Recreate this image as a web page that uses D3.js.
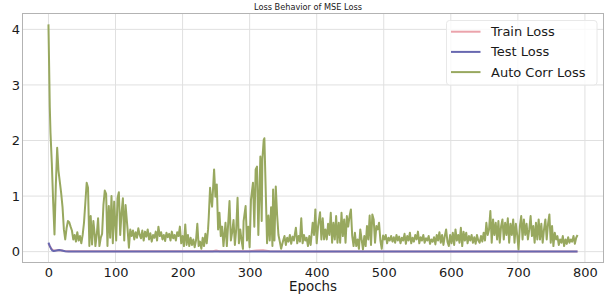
<!DOCTYPE html>
<html><head><meta charset="utf-8">
<script src="https://cdn.jsdelivr.net/npm/d3@7"></script>
<style>
html,body{margin:0;padding:0;background:#fff;}
svg{display:block;font-family:"DejaVu Sans",sans-serif;}
</style></head>
<body>
<svg id="chart" width="611" height="301"></svg>
<script>
const title = "Loss Behavior of MSE Loss";
const xLabel = "Epochs";
const xTicks = [0,100,200,300,400,500,600,700,800];
const yTicks = [0,1,2,3,4];
const seriesNames = ["Train Loss","Test Loss","Auto Corr Loss"];
const seriesColors = ["#eba3ab","#6868b0","#98a85f"];

const trainEpochs = [0,2,4,6,8,12,15,18,22,26,40,100,200,245,250,255,300,310,320,330,400,500,600,700,789];
const trainValues = [0.14,0.1,0.06,0.03,0.02,0.025,0.03,0.025,0.015,0.008,0.006,0.005,0.005,0.008,0.02,0.008,0.006,0.02,0.025,0.008,0.004,0.003,0.003,0.003,0.003];

const testEpochs = [0,2,4,6,8,12,16,20,25,30,60,200,400,600,789];
const testValues = [0.16,0.1,0.05,0.02,0.01,0.02,0.03,0.02,0.006,0.004,0.003,0.002,0.002,0.002,0.002];

const autoEpochs = [0,2,3,5,7,9,11,13,15,17,19,21,23,25,27,29,31,33,35,37,39,41,43,45,47,49,51,53,55,57,59,61,63,65,67,69,70,72,74,76,78,80,82,84,86,88,90,92,94,96,98,101,103,105,107,109,111,113,115,118,120,122,124,126,128,130,132,134,136,138,140,142,144,146,148,150,152,154,156,158,160,162,164,166,168,170,172,174,176,178,180,182,184,186,188,190,192,194,196,198,200,202,204,206,208,210,212,214,216,218,220,222,224,226,228,230,232,234,236,238,239,241,243,244,247,249,251,253,255,257,259,261,264,266,268,270,272,274,276,278,280,282,284,286,288,290,291,294,296,298,300,302,305,307,309,311,313,316,318,319,321,322,324,326,328,330,332,334,335,337,339,341,343,345,347,350,352,354,356,358,360,362,364,366,369,371,373,375,377,379,381,383,385,387,389,391,394,396,398,400,402,405,407,409,411,413,415,417,419,421,423,425,427,429,431,433,435,437,439,441,443,445,447,449,451,453,455,457,459,461,463,465,467,469,471,473,475,477,479,481,483,485,487,489,491,493,495,497,499,501,503,505,507,509,511,513,515,517,519,521,523,525,527,529,531,533,535,537,539,541,543,545,547,549,551,553,555,557,559,561,563,565,567,569,571,573,575,577,579,581,583,585,587,589,591,593,595,597,599,601,603,605,607,609,611,613,615,617,619,621,623,625,627,629,631,633,635,637,639,641,643,645,647,649,651,653,655,657,659,661,663,665,667,669,671,673,675,677,679,681,683,685,687,689,691,693,695,697,699,701,703,705,707,709,711,713,715,717,719,721,723,725,727,729,731,733,735,737,739,741,743,745,747,749,751,753,755,757,759,761,763,765,767,769,771,773,775,777,779,781,783,785,787,789];
const autoValues = [4.09,2.6,2.15,1.6,0.9,0.31,1.2,1.87,1.45,1.25,1.05,0.8,0.4,0.22,0.42,0.55,0.53,0.45,0.38,0.22,0.3,0.18,0.35,0.2,0.28,0.15,0.3,0.52,0.88,1.24,1.15,0.1,0.64,0.13,0.55,0.3,0.1,0.3,0.6,0.1,0.25,0.32,0.84,1.1,1.04,0.1,0.82,0.25,1.0,0.15,0.9,0.2,0.96,1.07,0.3,0.7,0.96,0.2,0.84,0.4,0.07,0.4,0.28,0.38,0.22,0.35,0.25,0.42,0.3,0.24,0.38,0.2,0.36,0.27,0.4,0.22,0.33,0.18,0.3,0.25,0.36,0.2,0.45,0.28,0.35,0.22,0.3,0.19,0.34,0.26,0.32,0.2,0.36,0.24,0.3,0.2,0.35,0.28,0.45,0.15,0.28,0.1,0.49,0.12,0.3,0.1,0.25,0.12,0.22,0.08,0.2,0.5,0.1,0.18,0.05,0.25,0.1,0.32,0.15,0.4,0.61,1.15,0.9,0.81,1.48,0.99,1.21,0.4,0.7,0.28,0.45,0.1,0.52,0.1,0.5,0.91,0.2,0.35,0.57,0.12,0.4,0.97,0.15,0.4,0.2,0.05,0.55,0.82,0.2,0.45,0.08,0.93,1.24,0.45,1.48,1.53,0.3,1.71,0.55,1.66,2.01,2.04,1.1,0.15,0.65,0.2,0.8,0.1,1.12,0.2,1.17,0.66,0.3,0.18,0.05,0.2,0.28,0.12,0.25,0.18,0.3,0.14,0.27,0.2,0.43,0.15,0.28,0.18,0.6,0.15,0.3,0.2,0.25,0.1,0.28,0.12,0.52,0.3,0.76,0.15,0.45,0.71,0.22,0.6,0.22,0.4,0.22,0.5,0.3,0.7,0.16,0.52,0.22,0.64,0.16,0.52,0.16,0.7,0.28,0.58,0.16,0.64,0.45,0.64,0.76,0.28,0.1,0.34,0.1,0.22,0.05,0.4,0.22,0.04,0.28,0.1,0.46,0.22,0.65,0.12,0.67,0.58,0.16,0.46,0.4,0.52,0.2,0.05,0.29,0.22,0.3,0.15,0.25,0.2,0.28,0.18,0.26,0.16,0.3,0.2,0.27,0.15,0.25,0.2,0.32,0.14,0.28,0.2,0.34,0.15,0.25,0.18,0.3,0.22,0.36,0.15,0.26,0.2,0.3,0.16,0.24,0.2,0.28,0.14,0.22,0.18,0.26,0.13,0.3,0.2,0.35,0.16,0.3,0.12,0.28,0.4,0.18,0.1,0.3,0.15,0.34,0.12,0.4,0.2,0.3,0.16,0.43,0.1,0.36,0.2,0.34,0.15,0.28,0.2,0.3,0.16,0.26,0.14,0.3,0.2,0.16,0.28,0.18,0.34,0.2,0.52,0.3,0.4,0.73,0.16,0.58,0.3,0.52,0.22,0.55,0.16,0.46,0.58,0.22,0.52,0.3,0.6,0.16,0.5,0.3,0.58,0.16,0.5,0.3,0.04,0.46,0.64,0.22,0.58,0.3,0.5,0.22,0.4,0.64,0.28,0.46,0.16,0.52,0.22,0.58,0.22,0.5,0.16,0.4,0.58,0.22,0.5,0.67,0.16,0.46,0.1,0.34,0.22,0.28,0.12,0.22,0.16,0.28,0.1,0.22,0.14,0.26,0.16,0.22,0.18,0.28,0.14,0.25,0.3];

const W = 611, H = 301;
const m = {left:22, right:604, top:13, bottom:263};
const svg = d3.select("#chart");

const x = d3.scaleLinear().domain([-39.45, 828.45]).range([m.left, m.right]);
const y = d3.scaleLinear().domain([-0.2045, 4.2945]).range([m.bottom, m.top]);

// grid
const grid = svg.append("g");
grid.selectAll(".vx").data(xTicks).join("line")
  .attr("x1", d=>x(d)).attr("x2", d=>x(d)).attr("y1", m.top).attr("y2", m.bottom)
  .attr("stroke", "#e0e0e0").attr("stroke-width", 1);
grid.selectAll(".hy").data(yTicks).join("line")
  .attr("x1", m.left).attr("x2", m.right).attr("y1", d=>y(d)).attr("y2", d=>y(d))
  .attr("stroke", "#e0e0e0").attr("stroke-width", 1);

// axes (labels only)
const xAxis = d3.axisBottom(x).tickValues(xTicks).tickFormat(d3.format("d")).tickSize(0).tickPadding(4.5);
const gx = svg.append("g").attr("transform", `translate(0,${m.bottom})`).call(xAxis);
gx.select(".domain").remove();
gx.selectAll("text").attr("font-size", 13).attr("fill", "#1a1a1a").attr("font-family","DejaVu Sans");

const yAxis = d3.axisLeft(y).tickValues(yTicks).tickFormat(d3.format("d")).tickSize(0).tickPadding(2);
const gy = svg.append("g").attr("transform", `translate(${m.left},0)`).call(yAxis);
gy.select(".domain").remove();
gy.selectAll("text").attr("font-size", 13).attr("fill", "#1a1a1a").attr("font-family","DejaVu Sans");

// lines
const clip = svg.append("clipPath").attr("id","clip").append("rect")
  .attr("x", m.left).attr("y", m.top).attr("width", m.right-m.left).attr("height", m.bottom-m.top);
const line = d3.line().x(d=>x(d[0])).y(d=>y(d[1]));
const series = [
  d3.zip(trainEpochs, trainValues),
  d3.zip(testEpochs, testValues),
  d3.zip(autoEpochs, autoValues)
];
const order = [0,2,1];
const lg = svg.append("g").attr("clip-path","url(#clip)");
order.forEach(i => {
  lg.append("path").datum(series[i]).attr("d", line)
    .attr("fill","none").attr("stroke", seriesColors[i])
    .attr("stroke-width", 2).attr("stroke-linejoin","round");
});

// frame
svg.append("rect").attr("x", m.left+0.5).attr("y", m.top+0.5)
  .attr("width", m.right-m.left-1).attr("height", m.bottom-m.top-1)
  .attr("fill","none").attr("stroke","#b3b3b3").attr("stroke-width",1);

// title
svg.append("text").attr("x", 308).attr("y", 10).attr("text-anchor","middle")
  .attr("font-size", 8.2).attr("fill","#1a1a1a").text(title);

// x label
svg.append("text").attr("x", 313).attr("y", 291).attr("text-anchor","middle")
  .attr("font-size", 13.4).attr("fill","#1a1a1a").text(xLabel);

// legend
const leg = svg.append("g");
leg.append("rect").attr("x", 446.5).attr("y", 20.5).attr("width", 150.5).attr("height", 64.5)
  .attr("rx", 3).attr("fill","#fff").attr("fill-opacity",0.8).attr("stroke","#e8e8e8");
seriesNames.forEach((name, i) => {
  const ly = 31.7 + i*20.2;
  leg.append("line").attr("x1", 451).attr("x2", 480.5).attr("y1", ly).attr("y2", ly)
    .attr("stroke", seriesColors[i]).attr("stroke-width", 2);
  leg.append("text").attr("x", 491).attr("y", ly).attr("dy","0.35em")
    .attr("font-size", 13).attr("fill","#1a1a1a").text(name);
});
</script>
</body></html>
